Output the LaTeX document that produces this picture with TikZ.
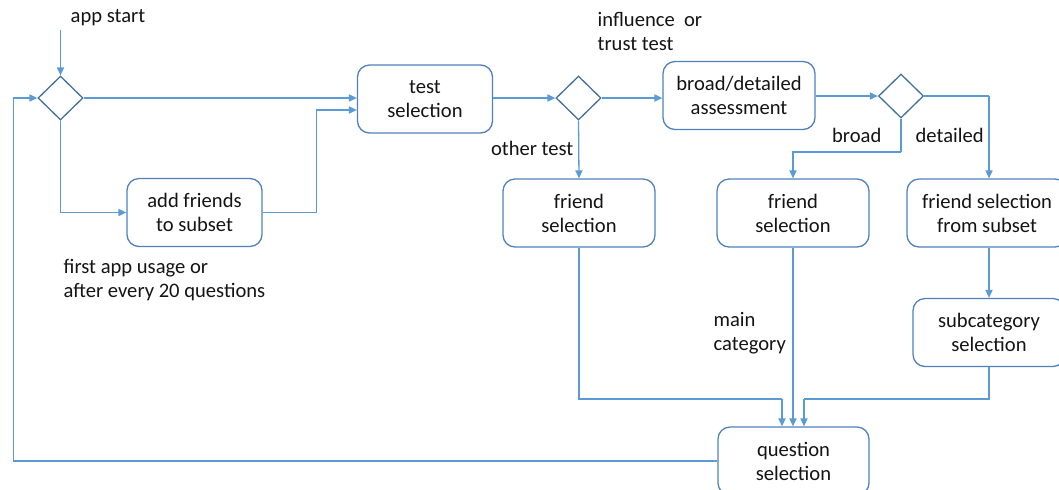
\documentclass[tikz,border=0pt]{standalone}
\usepackage{fontspec}
\setmainfont{Carlito}
\usepackage{tikz}
\usetikzlibrary{arrows.meta,shapes.geometric}
\definecolor{flowblue}{RGB}{91,155,213}
\definecolor{boxblue}{RGB}{79,129,189}
\definecolor{diablue}{RGB}{65,113,156}
\definecolor{txtgray}{RGB}{20,20,20}

\begin{document}
\begin{tikzpicture}[x=0.5pt,y=-0.5pt,line width=0.65pt,font=\fontsize{10.3}{12}\selectfont,text=txtgray]
            \tikzstyle{stepbox}=[draw=boxblue,rounded corners=6pt,align=center,minimum height=34pt,inner sep=2pt]
            \tikzstyle{decision}=[diamond,draw=diablue,aspect=1,minimum width=22.5pt,minimum height=22pt,inner sep=0pt]
            \tikzstyle{flow}=[flowblue,-{Triangle[length=4pt,width=3.6pt]}]
            \tikzstyle{wire}=[flowblue]
            \tikzstyle{note}=[align=left,inner sep=0pt,anchor=west]

            \useasboundingbox (0,0) rectangle (1059,489);

            % boxes
            \node[stepbox,minimum width=67.5pt] (addfr) at (194.5,212.5) {add friends\\to subset};
            \node[stepbox,minimum width=67.5pt] (testsel) at (425,99) {test\\selection};
            \node[stepbox,minimum width=76pt] (assess) at (739,95.5) {broad/detailed\\assessment};
            \node[stepbox,minimum width=76pt] (fs1) at (579,213) {friend\\selection};
            \node[stepbox,minimum width=76pt] (fs2) at (793,213) {friend\\selection};
            \node[stepbox,minimum width=80pt] (fsub) at (987,213) {friend selection\\from subset};
            \node[stepbox,minimum width=76pt] (subcat) at (989,332.5) {subcategory\\selection};
            \node[stepbox,minimum width=75.5pt] (qsel) at (793.5,461) {question\\selection};

            % decisions
            \node[decision] (d1) at (60.5,98) {};
            \node[decision] (d2) at (578.5,98) {};
            \node[decision] (d3) at (901,96) {};

            % labels
            \node[note] (lstart) at (70,18) {app start};
            \node[note] (lfirst) at (63,280.5) {first app usage or\\after every 20 questions};
            \node[note] (linfl) at (597,31) {influence~ or\\trust test};
            \node[note,anchor=east] (lother) at (574,148) {other test};
            \node[note,anchor=east] (lbroad) at (882,135) {broad};
            \node[note] (ldet) at (915,135) {detailed};
            \node[note] (lmain) at (713,333) {main\\category};

            % helper points
            \coordinate (top) at (60.5,30);
            \coordinate (j1) at (782,399);
            \coordinate (j2) at (804,399);
            \coordinate (j3) at (901,152);
            \coordinate (j4) at (989,96);

            % connectors
            \draw[flow] (top) -- (d1.north);
            \draw[flow] (d1.east) -- (testsel.west |- d1.east);
            \draw[flow] (d1.south) |- (addfr.west);
            \draw[flow] (addfr.east) -- ++(54,0) |- ([yshift=-5.5pt]testsel.west);
            \draw[flow] (testsel.east |- d2.west) -- (d2.west);
            \draw[flow] (d2.east) -- (assess.west |- d2.east);
            \draw[flow] (d2.south) -- (fs1.north);
            \draw[flow] (assess.east |- d3.west) -- (d3.west);
            \draw[wire] (d3.south) -- (j3);
            \draw[flow] (j3) -| (fs2.north);
            \draw[wire] (d3.east) -- (j4);
            \draw[flow] (j4) -- (j4 |- fsub.north);
            \draw[flow] (j4 |- fsub.south) -- (subcat.north);
            \draw[wire] (fs1.south) |- (j1);
            \draw[flow] (j1) -- (j1 |- qsel.north);
            \draw[flow] (fs2.south) -- (fs2.south |- qsel.north);
            \draw[wire] (subcat.south) |- (j2);
            \draw[flow] (j2) -- (j2 |- qsel.north);
            \draw[flow] (qsel.west) -| ([xshift=-12pt]d1.west) -- (d1.west);
        \end{tikzpicture}
\end{document}
